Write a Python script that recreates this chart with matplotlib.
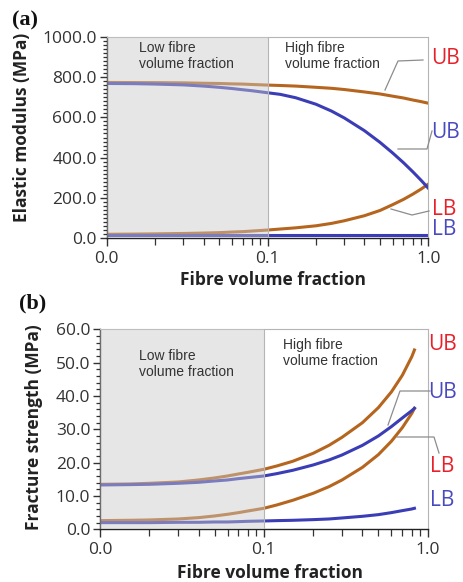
import numpy as np
import matplotlib
matplotlib.use("Agg")
import matplotlib.pyplot as plt
from matplotlib.ticker import LogLocator, FuncFormatter, NullFormatter, MultipleLocator
from matplotlib.lines import Line2D

# ---- data ----
# (a) elastic modulus, MPa
x_a = [0.01, 0.015, 0.02, 0.03, 0.04, 0.05, 0.06, 0.07, 0.08, 0.1, 0.12, 0.15,
       0.2, 0.25, 0.3, 0.4, 0.5, 0.6, 0.7, 0.8, 0.9, 1.0]
brown_ub_a = [773, 772.5, 772, 771, 769, 768, 766, 765, 763, 760, 758, 755,
              749, 744, 738, 726, 716, 705, 696, 686, 678, 670]
blue_ub_a = [768, 767, 765, 761, 755, 749, 743, 737, 732, 722, 714, 697,
             665, 631, 597, 534, 476, 423, 375, 330, 288, 248]
brown_lb_a = [20, 21, 22, 24, 26, 28, 31, 33, 36, 41, 46, 52,
              62, 74, 87, 112, 138, 167, 193, 219, 244, 269]
blue_lb_a = [16] * 22

# (b) fracture strength, MPa
x_b = [0.01, 0.015, 0.02, 0.03, 0.04, 0.05, 0.06, 0.07, 0.08, 0.1, 0.12, 0.15,
       0.2, 0.25, 0.3, 0.4, 0.5, 0.6, 0.7, 0.8, 0.83]
brown_ub_b = [13.5, 13.6, 13.8, 14.2, 14.8, 15.4, 16.0, 16.6, 17.1, 18.0, 19.0, 20.4,
              22.8, 25.2, 27.6, 32.0, 36.5, 41.2, 46.2, 51.8, 53.8]
blue_ub_b = [13.3, 13.4, 13.5, 13.8, 14.1, 14.5, 14.8, 15.2, 15.5, 16.0, 16.7, 17.7,
             19.3, 20.8, 22.3, 25.2, 28.0, 30.8, 33.4, 35.6, 36.3]
brown_lb_b = [2.6, 2.7, 2.8, 3.1, 3.5, 4.0, 4.5, 5.0, 5.5, 6.3, 7.3, 8.7,
              10.8, 12.8, 14.8, 18.6, 22.4, 26.4, 30.5, 34.8, 36.3]
blue_lb_b = [2.0, 2.0, 2.0, 2.1, 2.1, 2.2, 2.2, 2.3, 2.4, 2.5, 2.6, 2.7,
             2.9, 3.1, 3.4, 3.9, 4.4, 5.0, 5.6, 6.1, 6.3]

W, H = 464, 582
BROWN = "#b5651d"
BLUE = "#3a3db5"
RED = "#e8202a"
LBLUE = "#4a4ac0"
GRAYLINE = "#8c8c8c"

plt.rcParams["font.family"] = ["Open Sans", "DejaVu Sans"]


def fx(px, py):
    return px / W, 1 - py / H


fig = plt.figure(figsize=(W / 100, H / 100), dpi=100)

ax_a = fig.add_axes([106.7 / W, 1 - 238.3 / H, 321.7 / W, 201.6 / H])
ax_b = fig.add_axes([100 / W, 1 - 529.3 / H, 327.7 / W, 200 / H])


def style(ax, ymax, major, minor, ylabel):
    ax.set_xscale("log")
    ax.set_xlim(0.01, 1.0)
    ax.set_ylim(0, ymax)
    ax.xaxis.set_major_locator(LogLocator(base=10, numticks=5))
    ax.xaxis.set_minor_locator(LogLocator(base=10, subs=np.arange(2, 10), numticks=20))
    ax.xaxis.set_major_formatter(FuncFormatter(lambda v, p: f"{v:.1f}"))
    ax.xaxis.set_minor_formatter(NullFormatter())
    ax.yaxis.set_major_locator(MultipleLocator(major))
    ax.yaxis.set_minor_locator(MultipleLocator(minor))
    ax.yaxis.set_major_formatter(FuncFormatter(lambda v, p: f"{v:.1f}"))
    ax.tick_params(axis="both", which="major", labelsize=12.5, colors="#333333",
                   length=5, width=1.0, direction="out")
    ax.tick_params(axis="both", which="minor", length=3, width=0.9, direction="out",
                   colors="#333333")
    ax.tick_params(axis="x", which="major", length=6, pad=3)
    ax.tick_params(axis="x", which="minor", length=5)
    ax.tick_params(axis="y", which="major", pad=2)
    for s in ["left", "bottom"]:
        ax.spines[s].set_color("#222222")
        ax.spines[s].set_linewidth(1.0)
    for s in ["top", "right"]:
        ax.spines[s].set_color("#b5b5b5")
        ax.spines[s].set_linewidth(0.8)
    ax.axvspan(0.01, 0.1, color="#c9c9c9", alpha=0.45, lw=0, zorder=3)
    ax.axvline(0.1, color="#b5b5b5", lw=0.8, zorder=3)
    ax.set_xlabel("Fibre volume fraction", fontsize=12.5, fontweight="bold", color="#222222")
    ax.set_ylabel(ylabel, fontsize=12.5, fontweight="bold", color="#222222")


style(ax_a, 1000, 200, 20, "Elastic modulus (MPa)")
style(ax_b, 60, 10, 2, "Fracture strength (MPa)")

lw = 2.2
ax_a.plot(x_a, brown_ub_a, color=BROWN, lw=lw, zorder=2)
ax_a.plot(x_a, brown_lb_a, color=BROWN, lw=lw, zorder=2)
ax_a.plot(x_a, blue_ub_a, color=BLUE, lw=lw, zorder=2)
ax_a.plot(x_a, blue_lb_a, color=BLUE, lw=lw, zorder=2)

ax_b.plot(x_b, brown_ub_b, color=BROWN, lw=lw, zorder=2)
ax_b.plot(x_b, brown_lb_b, color=BROWN, lw=lw, zorder=2)
ax_b.plot(x_b, blue_ub_b, color=BLUE, lw=lw, zorder=2)
ax_b.plot(x_b, blue_lb_b, color=BLUE, lw=lw, zorder=2)

ax_a.xaxis.set_label_coords(0.517, -0.16)
ax_a.yaxis.set_label_coords(-0.235, 0.55)
ax_b.xaxis.set_label_coords(0.519, -0.172)
ax_b.yaxis.set_label_coords(-0.175, 0.51)

# region notes
tk = dict(fontsize=10, color="#333333", family=["Liberation Sans", "DejaVu Sans"],
          va="center", ha="left", linespacing=1.1)
fig.text(*fx(139, 56), "Low fibre\nvolume fraction", **tk)
fig.text(*fx(285, 56), "High fibre\nvolume fraction", **tk)
fig.text(*fx(139, 364), "Low fibre\nvolume fraction", **tk)
fig.text(*fx(283, 353), "High fibre\nvolume fraction", **tk)

# panel letters
pk = dict(fontsize=16, fontweight="bold", family=["Liberation Serif", "DejaVu Serif"],
          va="center", ha="left", color="#111111")
fig.text(*fx(12, 20), "(a)", **pk)
fig.text(*fx(19, 303), "(b)", **pk)

# right-hand labels
lk = dict(fontsize=15, va="center", ha="left")
fig.text(*fx(431, 59), "UB", color=RED, **lk)
fig.text(*fx(431, 132), "UB", color=LBLUE, **lk)
fig.text(*fx(432, 209), "LB", color=RED, **lk)
fig.text(*fx(432, 230), "LB", color=LBLUE, **lk)
fig.text(*fx(428, 344), "UB", color=RED, **lk)
fig.text(*fx(428, 392), "UB", color=LBLUE, **lk)
fig.text(*fx(430, 467), "LB", color=RED, **lk)
fig.text(*fx(430, 501), "LB", color=LBLUE, **lk)

# leader lines
leaders = [
    [(423, 60), (398, 61), (385, 90)],
    [(432, 131), (427, 149), (398, 149)],
    [(429, 211), (412, 215), (391, 209)],
    [(430, 391), (400, 391), (388, 425)],
    [(397, 437), (434, 437), (439, 453)],
]
for pts in leaders:
    xs = [p[0] / W for p in pts]
    ys = [1 - p[1] / H for p in pts]
    fig.add_artist(Line2D(xs, ys, color=GRAYLINE, lw=0.9, transform=fig.transFigure))

fig.savefig("out.png", dpi=100)
